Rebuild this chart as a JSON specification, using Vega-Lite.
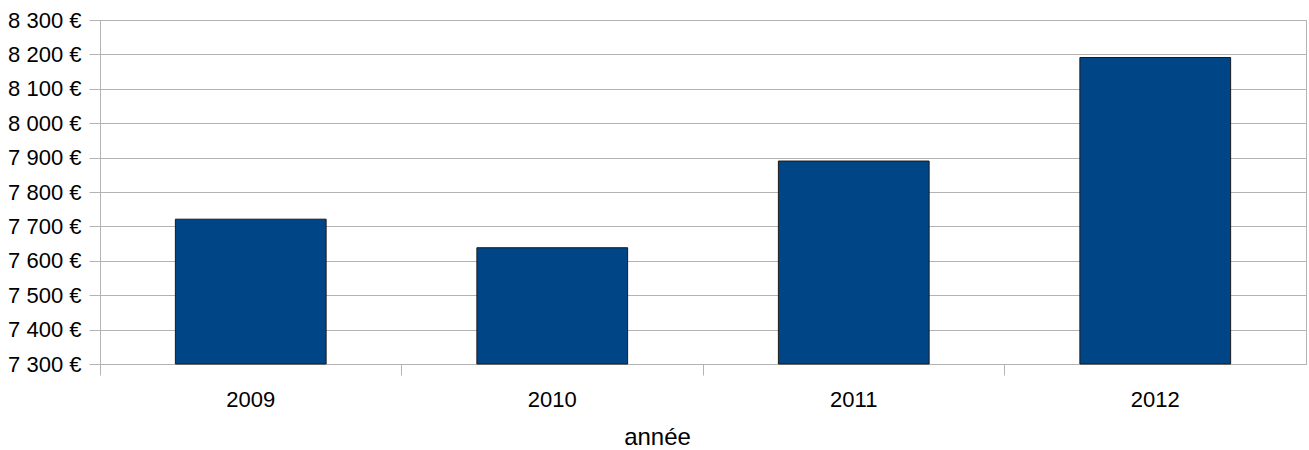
{
  "$schema": "https://vega.github.io/schema/vega-lite/v6.json",
  "width": 1206,
  "height": 344,
  "autosize": {"type": "none"},
  "padding": {"left": 100, "top": 20, "right": 3, "bottom": 86},
  "background": "white",
  "data": {
    "values": [
      {"annee": "2009", "valeur": 7721},
      {"annee": "2010", "valeur": 7638},
      {"annee": "2011", "valeur": 7890},
      {"annee": "2012", "valeur": 8191}
    ]
  },
  "mark": {"type": "bar", "color": "#004586", "stroke": "#1a1a1a", "strokeWidth": 1, "width": {"band": 0.5}},
  "encoding": {
    "x": {
      "field": "annee",
      "type": "ordinal",
      "scale": {"paddingInner": 0, "paddingOuter": 0},
      "axis": {
        "title": "année",
        "labelAngle": 0,
        "bandPosition": 0,
        "tickSize": 11,
        "tickColor": "#b3b3b3",
        "domainColor": "#b3b3b3",
        "labelFont": "Liberation Sans",
        "labelFontSize": 22,
        "labelColor": "#000000",
        "labelBaseline": "alphabetic",
        "labelPadding": 31,
        "titleFont": "Liberation Sans",
        "titleFontSize": 24,
        "titleFontWeight": "normal",
        "titleColor": "#000000",
        "titleX": 557,
        "titleY": 80,
        "titleBaseline": "alphabetic",
        "titleAnchor": null
      }
    },
    "y": {
      "field": "valeur",
      "type": "quantitative",
      "scale": {"domain": [7300, 8300], "zero": false, "nice": false},
      "axis": {
        "title": null,
        "values": [7300, 7400, 7500, 7600, 7700, 7800, 7900, 8000, 8100, 8200, 8300],
        "labelExpr": "replace(format(datum.value, ',d'), ',', ' ') + ' €'",
        "tickSize": 11,
        "tickColor": "#b3b3b3",
        "domainColor": "#b3b3b3",
        "gridColor": "#b3b3b3",
        "grid": true,
        "labelFont": "Liberation Sans",
        "labelFontSize": 22,
        "labelColor": "#000000",
        "labelPadding": 8
      }
    },
    "y2": {"datum": 7300}
  },
  "config": {
    "view": {"stroke": "#b3b3b3"},
    "axis": {"gridOpacity": 1, "domainWidth": 1, "tickWidth": 1}
  }
}
